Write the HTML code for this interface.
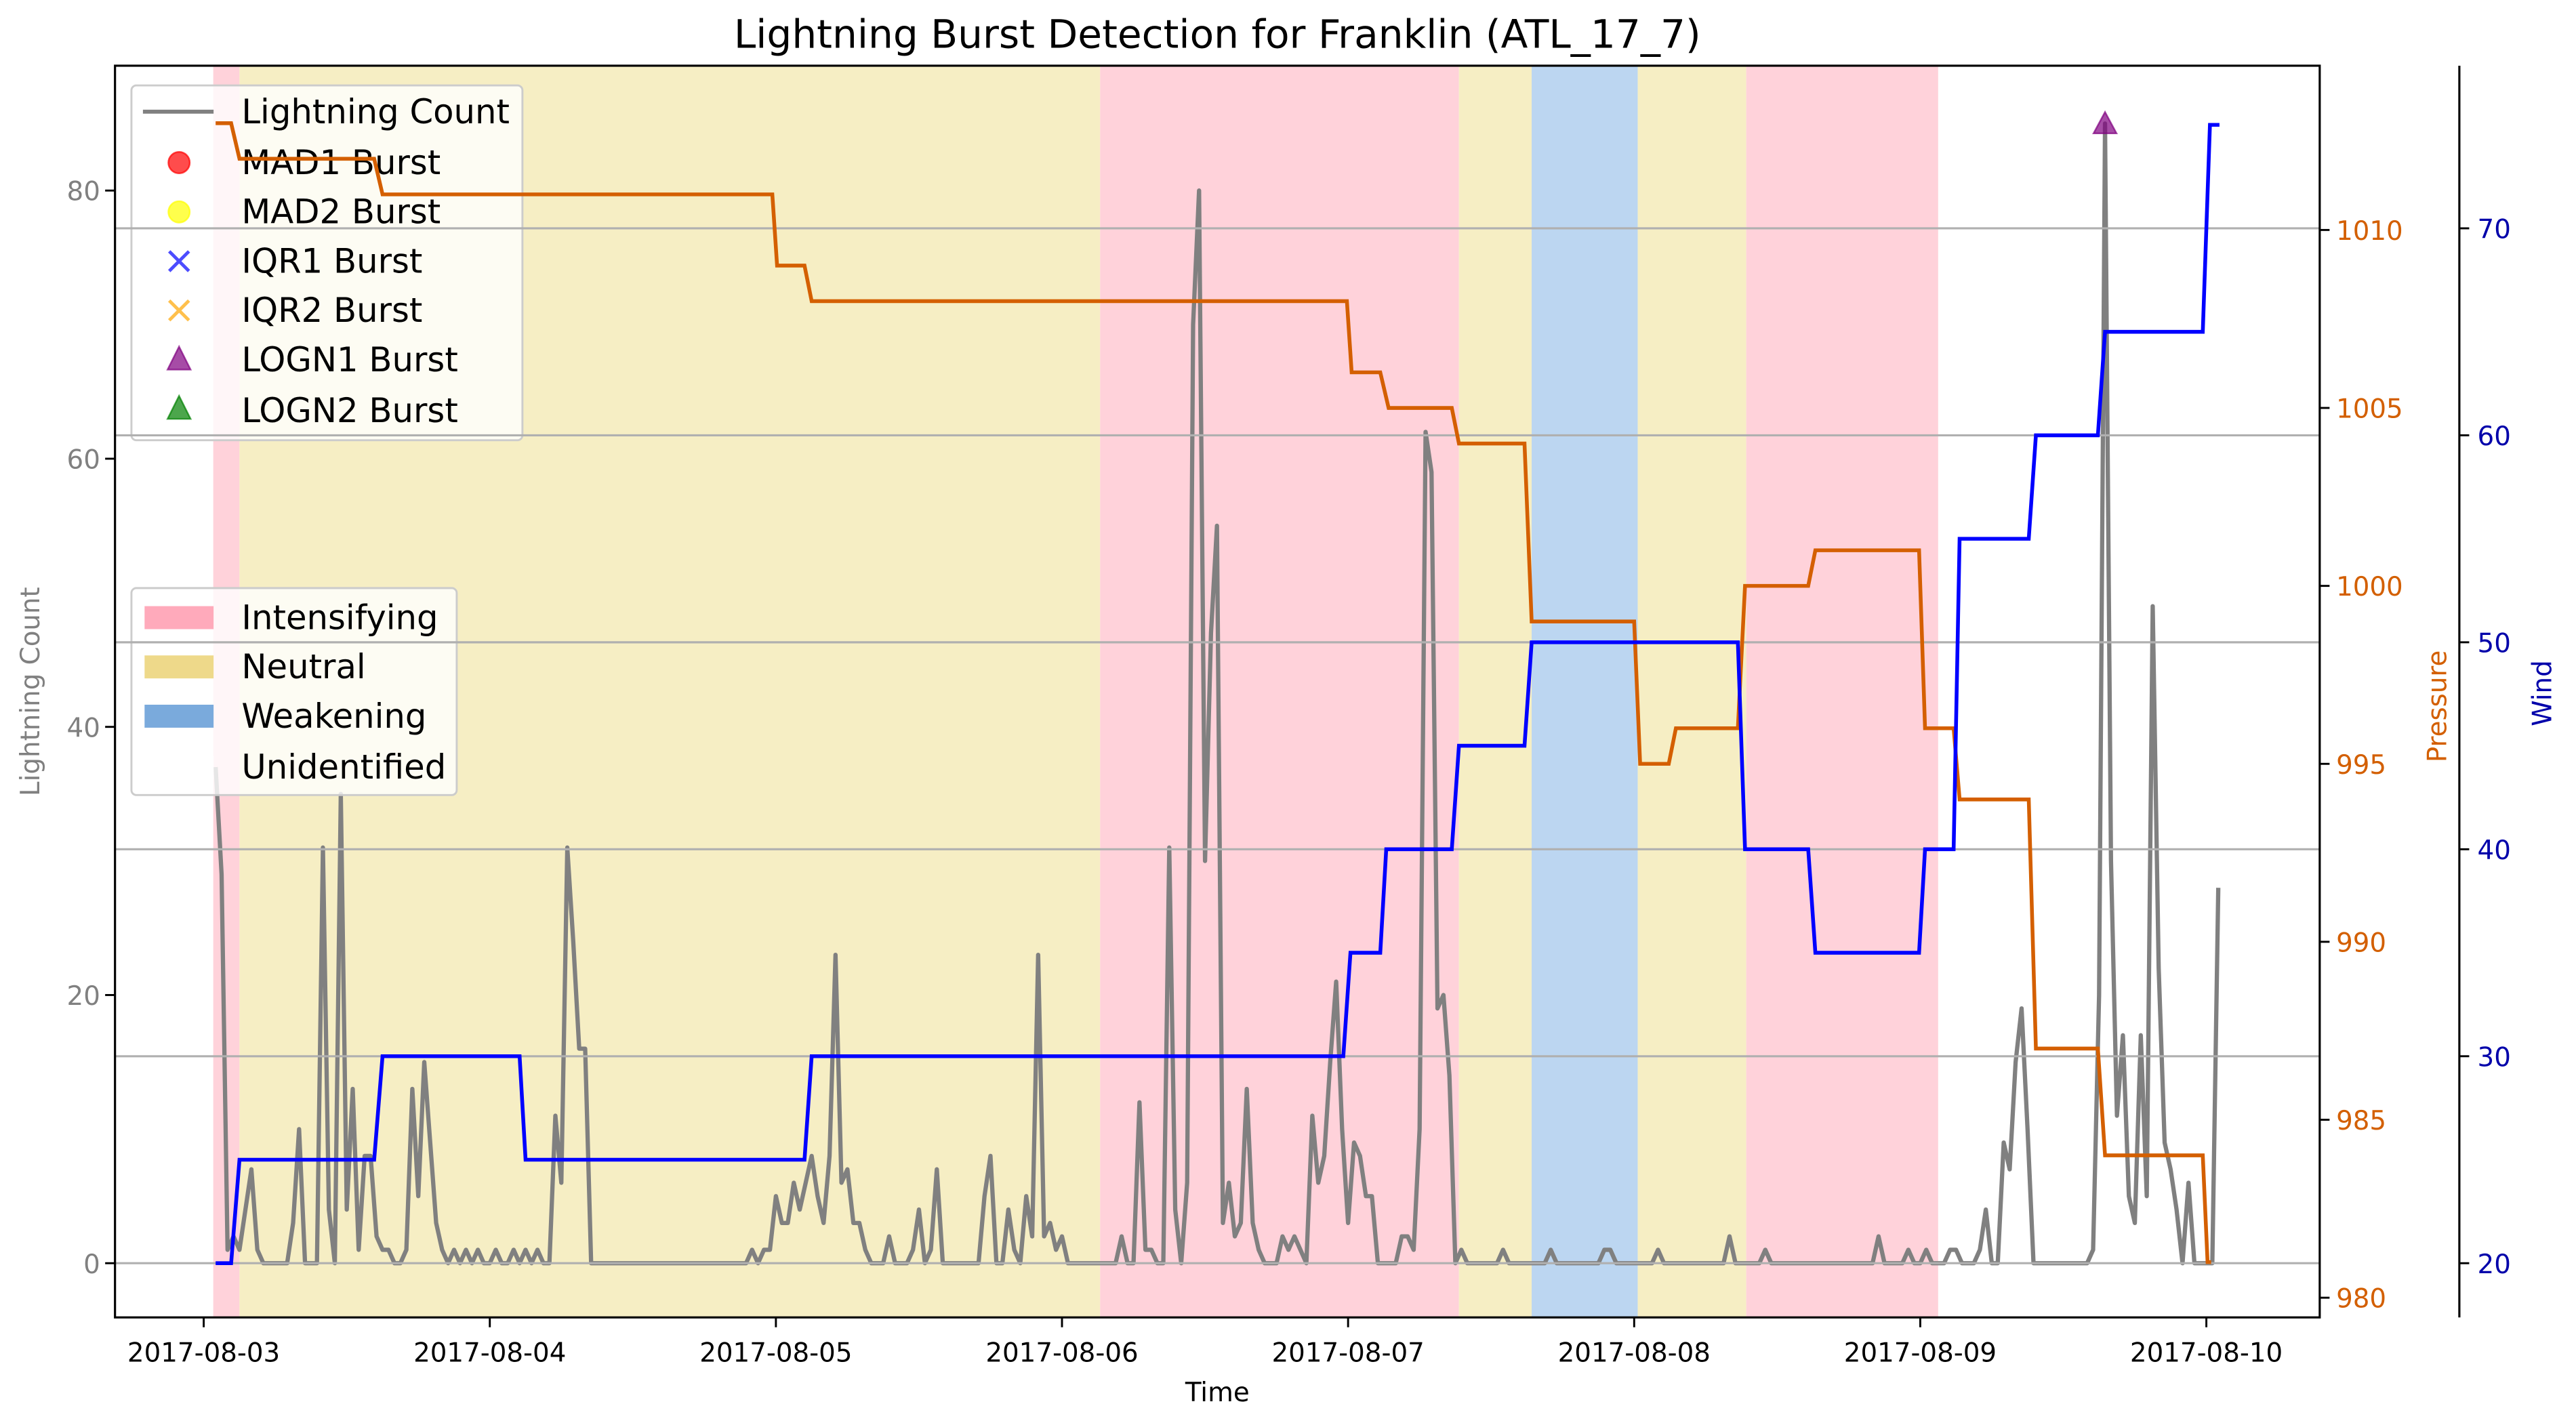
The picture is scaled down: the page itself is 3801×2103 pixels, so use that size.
<!DOCTYPE html>
<html><head><meta charset="utf-8"><style>
html,body{margin:0;padding:0;background:#fff;}
svg{display:block;font-family:"DejaVu Sans","Liberation Sans",sans-serif;}
</style></head><body>
<svg id="chart" width="3801" height="2103" viewBox="0 0 1568 867.5" preserveAspectRatio="none" xmlns="http://www.w3.org/2000/svg">
<rect x="0" y="0" width="1568" height="867.5" fill="#ffffff"/>
<g id="spans"></g>
<g id="lightning"></g>
<g id="legend1">
 <rect x="80" y="52" width="238" height="216" rx="3" fill="#ffffff" fill-opacity="0.8" stroke="#cccccc" stroke-width="1.2"/>
 <g font-size="20.5" fill="#000">
  <line x1="87" y1="68" x2="130" y2="68" stroke="#808080" stroke-width="2.4"/>
  <text x="147" y="75">Lightning Count</text>
  <circle cx="109" cy="99" r="6.5" fill="#ff0000" fill-opacity="0.7" stroke="#ff0000" stroke-opacity="0.7"/>
  <text x="147" y="106">MAD1 Burst</text>
  <circle cx="109" cy="129" r="6.5" fill="#ffff00" fill-opacity="0.7" stroke="#ffff00" stroke-opacity="0.7"/>
  <text x="147" y="136">MAD2 Burst</text>
  <path d="M103,153 L115,165 M115,153 L103,165" stroke="#0000ff" stroke-opacity="0.7" stroke-width="2"/>
  <text x="147" y="166">IQR1 Burst</text>
  <path d="M103,183 L115,195 M115,183 L103,195" stroke="#ffa500" stroke-opacity="0.7" stroke-width="2"/>
  <text x="147" y="196">IQR2 Burst</text>
  <path d="M109,211 L116,225 L102,225 Z" fill="#800080" fill-opacity="0.7" stroke="#800080" stroke-opacity="0.7"/>
  <text x="147" y="226">LOGN1 Burst</text>
  <path d="M109,241 L116,255 L102,255 Z" fill="#008000" fill-opacity="0.7" stroke="#008000" stroke-opacity="0.7"/>
  <text x="147" y="257">LOGN2 Burst</text>
 </g>
</g>
<g id="legend2">
 <rect x="80" y="358" width="198" height="126" rx="3" fill="#ffffff" fill-opacity="0.8" stroke="#cccccc" stroke-width="1.2"/>
 <g font-size="20.5" fill="#000">
  <rect x="88" y="369" width="42" height="14" fill="#ffaabb"/>
  <text x="147" y="383">Intensifying</text>
  <rect x="88" y="399" width="42" height="14" fill="#eed98a"/>
  <text x="147" y="413">Neutral</text>
  <rect x="88" y="429" width="42" height="14" fill="#7aaadc"/>
  <text x="147" y="443">Weakening</text>
  <rect x="88" y="460" width="42" height="14" fill="#ffffff"/>
  <text x="147" y="474">Unidentified</text>
 </g>
</g>
<g id="grid"></g>
<g id="pressure"></g>
<g id="wind"></g>
<g id="bursts"></g>
<g id="axes"></g>
<text x="741" y="29" text-anchor="middle" font-size="24" fill="#000">Lightning Burst Detection for Franklin (ATL_17_7)</text>
<text x="741" y="853" text-anchor="middle" font-size="16" fill="#000">Time</text>
<text x="0" y="0" transform="translate(24,421) rotate(-90)" text-anchor="middle" font-size="16" fill="#808080">Lightning Count</text>
<text x="0" y="0" transform="translate(1489,430) rotate(-90)" text-anchor="middle" font-size="16" fill="#d35f00">Pressure</text>
<text x="0" y="0" transform="translate(1553,422) rotate(-90)" text-anchor="middle" font-size="16" fill="#0000aa">Wind</text>
</svg>
<script>
// ---- data (time in hours since 2017-08-03 00:00) ----
const lightningStart = 1;
const lightningStep = 0.5;
const lightningCounts = [
37,29,1,2,1,4,7,1,0,0, 0,0,0,3,10,0,0,0,31,4, 0,35,4,13,1,8,8,2,1,1, 0,0,1,13,5,15,9,3,1,0,
1,0,1,0,1,0,0,1,0,0, 1,0,1,0,1,0,0,11,6,31, 24,16,16,
0,0,0,0,0,0,0, 0,0,0,0,0,0,0,0,0,0, 0,0,0,0,0,0,0,0,0,0,
1,0,1,1,5,3,3,6,4,6, 8,5,3,8,23,6,7,3,3,1, 0,0,0,2,0,0,0,1,4,0, 1,7,0,0,0,0,0,0,0,5,
8,0,0,4,1,0,5,2,23,2, 3,1,2,0,0,0,0,0,0,0, 0,0,2,0,0,12,1,1,0,0, 31,4,0,6,70,80,30,47,55,3,
6,2,3,13,3,1,0,0,0,2, 1,2,1,0,11,6,8,15,21,10, 3,9,8,5,5,0,0,0,0,2, 2,1,10,62,59,19,20,14,0,1,
0,0,0,0,0,0,1,0,0,0, 0,0,0,0,1,0,0,0,0,0, 0,0,0,1,1,0,0,0,0,0, 0,0,1,0,0,0,0,0,0,0,
0,0,0,0,2,0,0,0,0,0, 1,0,0,0,0,0,0,0,0,0, 0,0,0,0,0,0,0,0,0,2, 0,0,0,0,1,0,0,1,0,0,
0,1,1,0,0,0,1,4,0,0, 9,7,15,19,10,0,0,0,0,0, 0,0,0,0,0,1,20,85,30,11, 17,5,3,17,5,49,22,9,7,4,
0,6,0,0,0,0,28];
const pressureTimes = [1,2.3,3,14.3,15,47.7,48.1,50.4,51,95.9,96.3,98.7,99.4,104.7,105.3,110.8,111.4,120,120.5,122.9,123.5,128.7,129.3,134.6,135.2,143.9,144.4,146.8,147.3,153.1,153.7,158.9,159.5,167.7,168.1,168.4];
const pressureVals  = [1013,1013,1012,1012,1011,1011,1009,1009,1008,1008,1006,1006,1005,1005,1004,1004,999,999,995,995,996,996,1000,1000,1001,1001,996,996,994,994,987,987,984,984,981,981];
const windTimes = [1,2.3,3,14.3,15,26.5,27,50.4,51,95.6,96.2,98.7,99.2,104.7,105.3,110.8,111.4,128.7,129.3,134.6,135.2,143.9,144.4,146.8,147.3,153.1,153.7,158.9,159.5,167.7,168.3,169.1];
const windVals  = [20,20,25,25,30,30,25,25,30,30,35,35,40,40,45,45,50,50,40,40,35,35,40,40,55,55,60,60,65,65,75,75];
const spanStarts = [0.8,3.0,75.2,105.3,111.4,120.3,129.4];
const spanEnds   = [3.0,75.2,105.3,111.4,120.3,129.4,145.5];
const spanPhases = ["Intensifying","Neutral","Intensifying","Neutral","Weakening","Neutral","Intensifying"];
const logn1Times = [159.5];
const logn1Vals = [85];
const xTickHours = [0,24,48,72,96,120,144,168];
const xTickLabels = ["2017-08-03","2017-08-04","2017-08-05","2017-08-06","2017-08-07","2017-08-08","2017-08-09","2017-08-10"];
const leftTicks = [0,20,40,60,80];
const pressureTicks = [980,985,990,995,1000,1005,1010];
const windTicks = [20,30,40,50,60,70];

// ---- scales ----
const AX = {l:70, r:1412, t:40, b:802};
const xOf = h => 124 + h * (1219 / 168);
const yL = v => 769 - v * 8.1625;
const yP = p => 140 + (1010 - p) * 21.667;
const yW = w => 769 - (w - 20) * 12.6;
const NS = "http://www.w3.org/2000/svg";
function mk(tag, attrs, parent){
  const e = document.createElementNS(NS, tag);
  for (const k in attrs) e.setAttribute(k, attrs[k]);
  parent.appendChild(e);
  return e;
}
const phaseColor = {Intensifying:"#ffd2da", Neutral:"#f6eec4", Weakening:"#bcd6f1"};

const gs = document.getElementById('spans');
spanStarts.forEach((s, i) => {
  const r = mk('rect', {x:xOf(s), y:AX.t, width:xOf(spanEnds[i]) - xOf(s), height:AX.b - AX.t, fill:phaseColor[spanPhases[i]]}, gs);
  
  
});

const gl = document.getElementById('lightning');
let d = '';
lightningCounts.forEach((v, i) => {
  const h = lightningStart + i * lightningStep;
  d += (i ? 'L' : 'M') + xOf(h).toFixed(2) + ',' + yL(v).toFixed(2);
});
const lp = mk('path', {d:d, fill:'none', stroke:'#808080', 'stroke-width':2.6, 'stroke-linejoin':'round'}, gl);



const gg = document.getElementById('grid');
windTicks.forEach(w => {
  const ln = mk('line', {x1:AX.l, x2:AX.r, y1:yW(w), y2:yW(w), stroke:'#b0b0b0', 'stroke-width':1.3}, gg);
  
  
});

const gp = document.getElementById('pressure');
let dp = '';
pressureTimes.forEach((t, i) => { dp += (i ? 'L' : 'M') + xOf(t).toFixed(2) + ',' + yP(pressureVals[i]).toFixed(2); });
const pp = mk('path', {d:dp, fill:'none', stroke:'#d45f00', 'stroke-width':2.3}, gp);



const gw = document.getElementById('wind');
let dw = '';
windTimes.forEach((t, i) => { dw += (i ? 'L' : 'M') + xOf(t).toFixed(2) + ',' + yW(windVals[i]).toFixed(2); });
const wp = mk('path', {d:dw, fill:'none', stroke:'#0000ff', 'stroke-width':2.3}, gw);



const gb = document.getElementById('bursts');
logn1Times.forEach((t, i) => {
  const cx = xOf(t), cy = yL(logn1Vals[i]);
  const tri = mk('path', {d:`M${cx},${cy-7} L${cx+7},${cy+6} L${cx-7},${cy+6} Z`, fill:'#800080', 'fill-opacity':0.7, stroke:'#800080', 'stroke-opacity':0.7}, gb);
  
  
});

const ga = document.getElementById('axes');
const frame = mk('rect', {x:AX.l, y:AX.t, width:AX.r - AX.l, height:AX.b - AX.t, fill:'none', stroke:'#000', 'stroke-width':1.3}, ga);


const ws = mk('line', {x1:1497, x2:1497, y1:AX.t, y2:AX.b, stroke:'#000', 'stroke-width':1.3}, ga);


xTickHours.forEach((h, i) => {
  const x = xOf(h);
  const tk = mk('line', {x1:x, x2:x, y1:AX.b, y2:AX.b + 6, stroke:'#000', 'stroke-width':1.2}, ga);
  
  
  const tx = mk('text', {x:x, y:829, 'text-anchor':'middle', 'font-size':16, fill:'#000'}, ga);
  
  
  tx.textContent = xTickLabels[i];
});
leftTicks.forEach(v => {
  const y = yL(v);
  const tk = mk('line', {x1:AX.l - 6, x2:AX.l, y1:y, y2:y, stroke:'#000', 'stroke-width':1.2}, ga);
  
  
  const tx = mk('text', {x:AX.l - 9, y:y + 6, 'text-anchor':'end', 'font-size':16, fill:'#808080'}, ga);
  
  
  tx.textContent = v;
});
pressureTicks.forEach(p => {
  const y = yP(p);
  const tk = mk('line', {x1:AX.r, x2:AX.r + 6, y1:y, y2:y, stroke:'#000', 'stroke-width':1.2}, ga);
  
  
  const tx = mk('text', {x:AX.r + 10, y:y + 6, 'text-anchor':'start', 'font-size':16, fill:'#d35f00'}, ga);
  
  
  tx.textContent = p;
});
windTicks.forEach(w => {
  const y = yW(w);
  const tk = mk('line', {x1:1497, x2:1503, y1:y, y2:y, stroke:'#000', 'stroke-width':1.2}, ga);
  
  
  const tx = mk('text', {x:1508, y:y + 6, 'text-anchor':'start', 'font-size':16, fill:'#0000aa'}, ga);
  
  
  tx.textContent = w;
});
</script>
</body></html>
